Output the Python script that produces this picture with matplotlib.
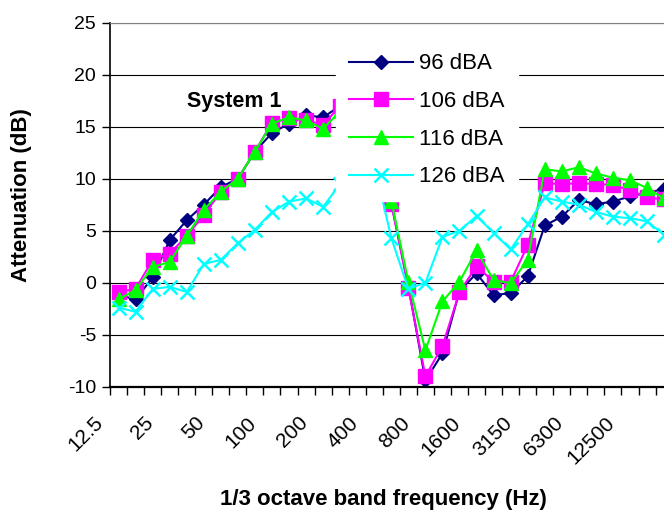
import numpy as np
import matplotlib
matplotlib.use("Agg")
import matplotlib.pyplot as plt
import matplotlib.transforms as mtransforms
from matplotlib.ticker import FixedLocator, MultipleLocator

plt.rcParams['font.family'] = ['Liberation Sans', 'DejaVu Sans']
plt.rcParams['axes.unicode_minus'] = False

# 1/3 octave band centre frequencies (Hz)
bands = ["12.5", "16", "20", "25", "31.5", "40", "50", "63", "80", "100",
         "125", "160", "200", "250", "315", "400", "500", "630", "800", "1000",
         "1250", "1600", "2000", "2500", "3150", "4000", "5000", "6300", "8000",
         "10000", "12500", "16000", "20000"]

# attenuation (dB) per band for each exposure level
att_96 = [-1.2, -1.6, 0.5, 4.1, 6.0, 7.5, 9.2, 10.0, 12.6, 14.4,
          15.3, 16.1, 15.9, 17.0, 17.5, 18.0, 7.7, -0.3, -9.4, -6.8,
          -0.8, 0.9, -1.2, -1.0, 0.6, 5.5, 6.35, 7.95, 7.55, 7.8,
          8.3, 8.65, 9.0]
att_106 = [-0.9, -0.6, 2.2, 2.8, 4.5, 6.5, 8.75, 10.0, 12.6, 15.4,
           15.8, 15.6, 15.2, 17.0, 17.3, 17.5, 7.6, -0.5, -9.0, -6.1,
           -0.9, 1.6, 0.1, 0.1, 3.6, 9.55, 9.5, 9.55, 9.5, 9.4,
           8.9, 8.2, 8.0]
att_116 = [-1.6, -0.7, 1.5, 2.0, 4.5, 7.0, 8.75, 10.0, 12.6, 15.3,
           15.9, 15.6, 14.8, 16.5, 16.8, 17.0, 7.9, 0.1, -6.5, -1.8,
           0.1, 3.1, 0.25, -0.05, 2.2, 10.9, 10.7, 11.1, 10.5, 10.1,
           9.85, 9.1, 8.1]
att_126 = [-2.4, -2.8, -0.6, -0.4, -0.9, 1.8, 2.2, 3.8, 5.1, 6.8,
           7.8, 8.1, 7.3, 9.5, 10.5, 11.4, 4.3, -0.6, 0.0, 4.4,
           5.0, 6.4, 4.8, 3.2, 5.6, 8.2, 7.8, 7.5, 6.8, 6.35,
           6.2, 5.9, 4.6]

W, H = 664, 518
fig = plt.figure(figsize=(W / 100, H / 100), dpi=100)
# plot area runs slightly past the right edge of the image
ax = fig.add_axes([110 / W, 1 - 386.7 / H, 562.6 / W, 364 / H])

x = np.arange(len(bands))
lw = 1.5
ax.plot(x, att_96, color='#000080', marker='D', ms=7, lw=lw, label='96 dBA', clip_on=False)
ax.plot(x, att_106, color='#FF00FF', marker='s', ms=10, lw=lw, label='106 dBA', clip_on=False)
ax.plot(x, att_116, color='#00FF00', marker='^', ms=10, lw=lw, label='116 dBA', clip_on=False)
ax.plot(x, att_126, color='#00FFFF', marker='x', ms=10, mew=1.8, lw=lw, label='126 dBA', clip_on=False)

ax.set_xlim(-0.5, len(bands) - 0.5)
ax.set_ylim(-10, 25)
ax.yaxis.set_major_locator(MultipleLocator(5))
ax.grid(axis='y', color='black', lw=0.8)
ax.set_axisbelow(True)

ax.xaxis.set_major_locator(FixedLocator(x[::3]))
ax.set_xticklabels(bands[::3], rotation=45, ha='right', va='top', fontsize=15)
ax.xaxis.set_minor_locator(FixedLocator(np.arange(len(bands) + 1) - 0.5))
ax.tick_params(axis='x', which='major', length=0, pad=19)
ax.tick_params(axis='x', which='minor', length=6, width=1, direction='out')
ax.tick_params(axis='y', length=6, width=1, direction='out', labelsize=14, pad=4)

shift = mtransforms.ScaledTranslation(-12 / 100, 0, fig.dpi_scale_trans)
for lbl in ax.get_xticklabels():
    lbl.set_transform(lbl.get_transform() + shift)

ax.spines['right'].set_visible(False)
ax.spines['top'].set_color('#808080')
ax.spines['left'].set_linewidth(1.2)
ax.spines['bottom'].set_linewidth(1.6)

ax.set_ylabel('Attenuation (dB)', fontsize=16, fontweight='bold')
ax.set_xlabel('1/3 octave band frequency (Hz)', fontsize=16, fontweight='bold')
ax.xaxis.label.set_va('center')
ax.yaxis.label.set_va('center')
ax.xaxis.set_label_coords((383 - 110) / 562.6, (386.7 - 500) / 364)
ax.yaxis.set_label_coords((22 - 110) / 562.6, (386.7 - 195) / 364)

ax.text((234 - 110) / 562.6, (386.7 - 101) / 364, 'System 1', transform=ax.transAxes,
        ha='center', va='center', fontsize=15.5, fontweight='bold')

leg = ax.legend(loc='upper left', bbox_to_anchor=(336 / W, 1 - 40 / H),
                bbox_transform=fig.transFigure, fontsize=16, frameon=True,
                fancybox=False, edgecolor='white', facecolor='white', framealpha=1,
                borderpad=0.6, labelspacing=0.75, handlelength=2.85, handletextpad=0.3,
                borderaxespad=0)

fig.savefig('out.png', dpi=100)
